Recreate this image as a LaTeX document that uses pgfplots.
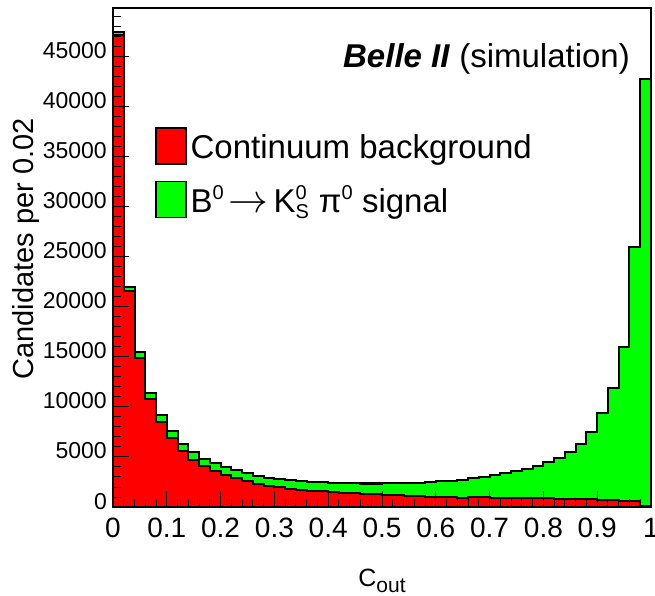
\documentclass[border=0pt]{standalone}
\usepackage{fontspec}
\setmainfont{Liberation Sans}
\usepackage{graphicx}
\usepackage{pgfplots}
\pgfplotsset{compat=1.18}
\usepackage{pgfplotstable}

% bin low edge, continuum background, B0 -> KS pi0 signal (last row closes the last bin)
\pgfplotstableread{
x    bkg    sig
0.00 47200  300
0.02 21600  430
0.04 14900  630
0.06 10750  680
0.08 8500   700
0.10 6850   780
0.12 5550   720
0.14 4650   820
0.16 4050   750
0.18 3600   770
0.20 3200   830
0.22 2850   850
0.24 2550   820
0.26 2330   800
0.28 2130   770
0.30 1980   800
0.32 1850   830
0.34 1750   850
0.36 1650   880
0.38 1560   910
0.40 1490   930
0.42 1430   950
0.44 1370   990
0.46 1310   1040
0.48 1260   1090
0.50 1210   1160
0.52 1160   1280
0.54 1110   1290
0.56 1070   1350
0.58 1030   1470
0.60 1000   1580
0.62 970    1670
0.64 950    1770
0.66 1030   1840
0.68 960    2070
0.70 930    2270
0.72 910    2490
0.74 900    2680
0.76 890    2910
0.78 880    3170
0.80 860    3590
0.82 840    4080
0.84 820    4640
0.86 800    5460
0.88 780    6670
0.90 750    8620
0.92 710    11170
0.94 650    15390
0.96 580    25460
0.98 150    42650
1.00 150    42650
}\hist

\definecolor{rootred}{RGB}{255,0,0}
\definecolor{rootgreen}{RGB}{0,255,0}

\newcommand{\sups}[1]{\raisebox{13pt}{\fontsize{20}{20}\selectfont #1}}

\begin{document}
\begin{tikzpicture}
\begin{axis}[
  name=ax,
  scale only axis, width=538pt, height=499pt,
  xmin=0, xmax=1, ymin=0, ymax=49900,
  axis on top,
  axis line style={line width=1.2pt},
  tick align=inside, xtick pos=left, ytick pos=left,
  xtick={0,0.1,...,1.0}, ytick={0,5000,...,45000},
  minor xtick={0,0.02,...,1}, minor ytick={0,1000,...,49000},
  major tick length=16pt, minor tick length=8pt,
  every tick/.style={black, line width=1pt},
  scaled y ticks=false,
  /pgf/number format/assume math mode=true,
  /pgf/number format/1000 sep={},
  xticklabel style={font=\fontsize{28}{28}\selectfont, anchor=base, inner sep=0pt, yshift=-30pt},
  yticklabel style={font=\fontsize{23}{23}\selectfont, anchor=base east, inner sep=0pt, xshift=-6pt, yshift=-2pt},
  xlabel={C\raisebox{-6.5pt}{\fontsize{21}{21}\selectfont out}},
  xlabel style={font=\fontsize{25}{25}\selectfont, at={(axis description cs:0.5,-0.159)}, anchor=base, inner sep=0pt},
  ylabel={Candidates per 0.02},
  ylabel style={font=\fontsize{29}{29}\selectfont, at={(axis description cs:-0.148,0.517)}, anchor=base, inner sep=0pt},
  legend image code/.code={\draw[#1] (0pt,-5pt) rectangle (30pt,31pt);},
  legend style={at={(axis description cs:0.078,0.7615)}, anchor=north west,
    draw=none, fill=none, inner sep=0pt, row sep=16pt,
    font=\fontsize{33}{40}\selectfont,
    nodes={inner sep=0pt}, cells={anchor=base west},
    /tikz/every odd column/.style={column sep=4pt}},
]
\addplot[const plot, fill=rootgreen, draw=black, line width=2pt, forget plot]
  table[x=x, y expr=\thisrow{bkg}+\thisrow{sig}] {\hist} \closedcycle;
\addplot[const plot, fill=rootred, draw=black, line width=2pt, forget plot]
  table[x=x, y=bkg] {\hist} \closedcycle;

\addlegendimage{fill=rootred, draw=black, line width=1.5pt}
\addlegendentry{Continuum background}
\addlegendimage{fill=rootgreen, draw=black, line width=1.5pt}
\addlegendentry{B\sups{0}\hspace{5pt}\scalebox{1.6}{$\rightarrow$}\hspace{5pt}K\rlap{\sups{0}}\raisebox{-6pt}{\fontsize{20}{20}\selectfont S}\hspace{10pt}π\sups{0} signal}

\node[anchor=base east, font=\fontsize{33}{40}\selectfont, inner sep=0pt]
  at (rel axis cs:0.961,0.88) {\textbf{\textit{Belle II}} (simulation)};
\end{axis}
\pgfresetboundingbox
\path[use as bounding box] ([xshift=-113pt,yshift=-89pt]ax.south west) rectangle ++(655pt,596pt);
\end{tikzpicture}
\end{document}
